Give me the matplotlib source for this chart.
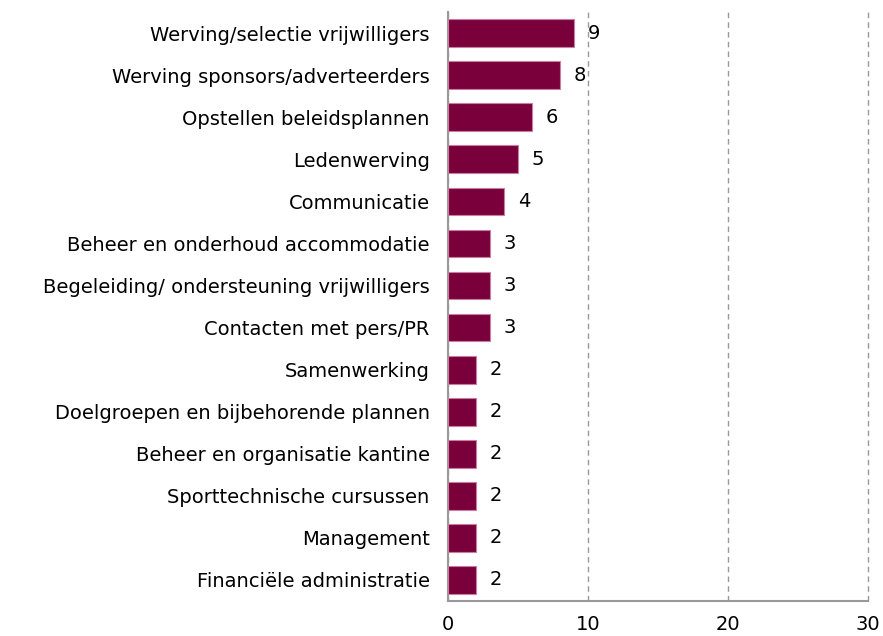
import matplotlib.pyplot as plt

categories = [
    "Werving/selectie vrijwilligers",
    "Werving sponsors/adverteerders",
    "Opstellen beleidsplannen",
    "Ledenwerving",
    "Communicatie",
    "Beheer en onderhoud accommodatie",
    "Begeleiding/ ondersteuning vrijwilligers",
    "Contacten met pers/PR",
    "Samenwerking",
    "Doelgroepen en bijbehorende plannen",
    "Beheer en organisatie kantine",
    "Sporttechnische cursussen",
    "Management",
    "Financiële administratie",
]
values = [9, 8, 6, 5, 4, 3, 3, 3, 2, 2, 2, 2, 2, 2]
xticks = [0, 10, 20, 30]

fig = plt.figure(figsize=(8.83, 6.36), dpi=100)
ax = fig.add_axes([0.507, 0.055, 0.476, 0.926])

y = list(range(len(categories)))
ax.barh(y, values, height=0.66, color='#7a003c', edgecolor='#c77fa0', linewidth=0.8, zorder=3)
ax.set_ylim(len(categories) - 0.5, -0.5)
ax.set_yticks(y)
ax.set_yticklabels(categories, fontsize=14)

for yi, v in zip(y, values):
    ax.annotate(str(v), (v, yi), xytext=(10, 0), textcoords='offset points',
                va='center', ha='left', fontsize=14)

ax.set_xlim(0, 30)
ax.set_xticks(xticks)
ax.set_xticklabels([str(t) for t in xticks], fontsize=14)
ax.tick_params(axis='both', length=0)
ax.tick_params(axis='x', pad=10)
ax.tick_params(axis='y', pad=13)
ax.xaxis.grid(True, linestyle=(0, (4, 3)), color='#999999', linewidth=1, zorder=0)
for gl in ax.get_xgridlines():
    gl.set_clip_on(False)

for s in ['top', 'right']:
    ax.spines[s].set_visible(False)
for s in ['left', 'bottom']:
    ax.spines[s].set_color('#999999')
    ax.spines[s].set_linewidth(1.5)

fig.savefig('out.png', dpi=100)
